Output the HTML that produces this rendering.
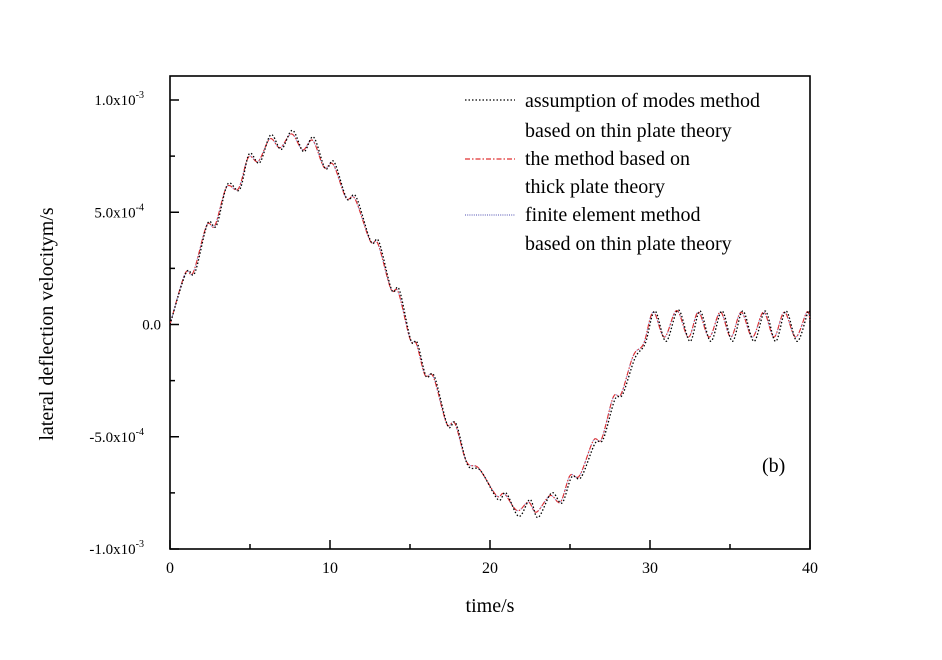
<!DOCTYPE html>
<html><head><meta charset="utf-8"><style>
body{margin:0;background:#fff;}
svg{display:block;font-family:"Liberation Serif",serif;}
</style></head><body>
<svg id="chart" width="942" height="660" viewBox="0 0 942 660" xmlns="http://www.w3.org/2000/svg">
<rect x="170" y="76" width="640" height="473" fill="none" stroke="#000" stroke-width="1.6"/>
<g id="ticks"></g>
<g id="series"></g>
<text x="490" y="612" font-size="20" text-anchor="middle">time/s</text>
<text transform="translate(53,324) rotate(-90)" font-size="20" text-anchor="middle">lateral deflection velocitym/s</text>
<text x="762" y="472" font-size="20">(b)</text>
<g font-size="20">
<line x1="465" y1="100" x2="515" y2="100" stroke="#000" stroke-width="1.3" stroke-dasharray="1.5,2"/>
<text x="525" y="107">assumption of modes method</text>
<text x="525" y="137">based on thin plate theory</text>
<line x1="465" y1="159" x2="515" y2="159" stroke="#e03030" stroke-width="1.2" stroke-dasharray="5,2,1.5,2"/>
<text x="525" y="165">the method based on</text>
<text x="525" y="193">thick plate theory</text>
<line x1="465" y1="215" x2="515" y2="215" stroke="#7070c0" stroke-width="1.2" stroke-dasharray="1,1.2"/>
<text x="525" y="221">finite element method</text>
<text x="525" y="250">based on thin plate theory</text>
</g>
</svg>
<script>
// values in units of 1e-4 m/s
const times = [0,0.94,1.46,2.29,2.81,3.54,4.27,4.9,5.52,6.25,6.88,7.6,8.29,8.92,9.63,10.2,11,11.56,12.5,13,13.8,14.27,15,15.4,15.94,16.46,17.29,17.81,18.54,19.3,20.4,20.9,21.7,22.4,22.9,23.75,24.4,25,25.6,26.46,26.98,27.7,28.2,28.96,29.6,30.2,30.9,31.67,32.4,33.02,33.7,34.4,35.05,35.7,36.4,37.1,37.75,38.4,39.1,39.8,40];
const thickVals = [0,2.26,2.33,4.41,4.41,6.12,6.04,7.45,7.27,8.27,7.87,8.49,7.78,8.2,7.0,7.13,5.64,5.6,3.74,3.59,1.59,1.44,-0.64,-0.86,-2.26,-2.33,-4.41,-4.41,-6.12,-6.4,-7.62,-7.54,-8.29,-7.91,-8.36,-7.62,-7.91,-6.73,-6.73,-5.17,-5.09,-3.24,-3.09,-1.38,-0.86,0.55,-0.56,0.62,-0.56,0.55,-0.56,0.55,-0.56,0.55,-0.56,0.55,-0.56,0.55,-0.56,0.55,0.2];
const femVals = [0,2.26,2.33,4.41,4.41,6.12,6.04,7.45,7.27,8.27,7.87,8.49,7.78,8.2,7.0,7.13,5.64,5.6,3.74,3.59,1.59,1.44,-0.64,-0.86,-2.26,-2.33,-4.41,-4.41,-6.12,-6.4,-7.62,-7.54,-8.29,-7.91,-8.36,-7.62,-7.91,-6.73,-6.73,-5.17,-5.09,-3.24,-3.09,-1.38,-0.86,0.55,-0.56,0.62,-0.56,0.55,-0.56,0.55,-0.56,0.55,-0.56,0.55,-0.56,0.55,-0.56,0.55,0.2];
const modesTimes = [0,1.0,1.55,2.35,2.9,3.6,4.35,4.95,5.6,6.3,6.95,7.65,8.35,8.97,9.7,10.25,11.05,11.62,12.55,13.05,13.85,14.33,15.05,15.45,16.0,16.52,17.35,17.87,18.6,19.4,20.5,21.0,21.8,22.5,23.0,23.85,24.5,25.1,25.7,26.56,27.08,27.8,28.3,29.06,29.7,30.3,31.0,31.77,32.5,33.12,33.8,34.5,35.15,35.8,36.5,37.2,37.85,38.5,39.2,39.9,40];
const modesVals = [0,2.3,2.3,4.5,4.4,6.25,6.0,7.6,7.2,8.45,7.8,8.65,7.7,8.35,6.95,7.25,5.6,5.7,3.7,3.7,1.55,1.55,-0.7,-0.8,-2.3,-2.3,-4.5,-4.4,-6.25,-6.5,-7.8,-7.5,-8.55,-7.8,-8.6,-7.5,-7.95,-6.8,-6.8,-5.3,-5.1,-3.35,-3.1,-1.5,-0.85,0.6,-0.75,0.65,-0.75,0.6,-0.75,0.6,-0.75,0.6,-0.75,0.6,-0.75,0.6,-0.75,0.6,0.1];
const xTicks = [0,10,20,30,40];
const yTicks = [-10,-5,0,5,10];
const yTickLabels = ["-1.0x10","-5.0x10","0.0","5.0x10","1.0x10"];
const yTickExp = ["-3","-4","","-4","-3"];

const NS="http://www.w3.org/2000/svg";
const X0=170,X1=810,Y0=549,Y1=100;
const xs=t=>X0+(t-0)/(40-0)*(X1-X0);
const ys=v=>Y0-(v+10)/20*(Y0-Y1);
const tg=document.getElementById('ticks');
function mk(tag,attrs,parent){const e=document.createElementNS(NS,tag);for(const k in attrs)e.setAttribute(k,attrs[k]);parent.appendChild(e);return e;}
for(let t=0;t<=40;t+=5){
  const major=xTicks.includes(t);
  const l=mk('line',{x1:xs(t),x2:xs(t),y1:Y0,y2:Y0-(major?9:5),stroke:'#000','stroke-width':1.5},tg);
  
  
}
xTicks.forEach(t=>{
  const tx=mk('text',{x:xs(t),y:Y0+24,'font-size':16,'text-anchor':'middle'},tg);
  tx.textContent=t;
  
  
});
for(let v=-10;v<=10;v+=2.5){
  const major=yTicks.includes(v);
  const l=mk('line',{x1:X0,x2:X0+(major?9:5),y1:ys(v),y2:ys(v),stroke:'#000','stroke-width':1.5},tg);
  
  
}
yTicks.forEach((v,i)=>{
  const tx=mk('text',{x:yTickExp[i]?156-yTickExp[i].length*6:161,y:ys(v)+5,'font-size':15,'text-anchor':'end'},tg);
  tx.textContent=yTickLabels[i];
  
  
  if(yTickExp[i]){
    const ex=mk('tspan',{dy:-7,'font-size':10},tx);
    ex.textContent=yTickExp[i];
  }
});
function pathFrom(T,V){
  const p=T.map((t,i)=>[xs(t),ys(V[i])]);
  let d='M'+p[0][0]+','+p[0][1];
  for(let i=0;i<p.length-1;i++){
    const a=p[Math.max(0,i-1)],b=p[i],c=p[i+1],e=p[Math.min(p.length-1,i+2)];
    const c1=[b[0]+(c[0]-a[0])/6,b[1]+(c[1]-a[1])/6],c2=[c[0]-(e[0]-b[0])/6,c[1]-(e[1]-b[1])/6];
    d+=' C'+c1.join(',')+' '+c2.join(',')+' '+c.join(',');
  }
  return d;
}
const sg=document.getElementById('series');
const p1=mk('path',{d:pathFrom(times,femVals),fill:'none',stroke:'#8080d0','stroke-width':1.2,'stroke-dasharray':'1,1.2'},sg);


const p2=mk('path',{d:pathFrom(times,thickVals),fill:'none',stroke:'#e03030','stroke-width':1.1,'stroke-dasharray':'5,2,1.5,2'},sg);


const p3=mk('path',{d:pathFrom(modesTimes,modesVals),fill:'none',stroke:'#000','stroke-width':1.3,'stroke-dasharray':'1.5,2'},sg);


</script>
</body></html>
